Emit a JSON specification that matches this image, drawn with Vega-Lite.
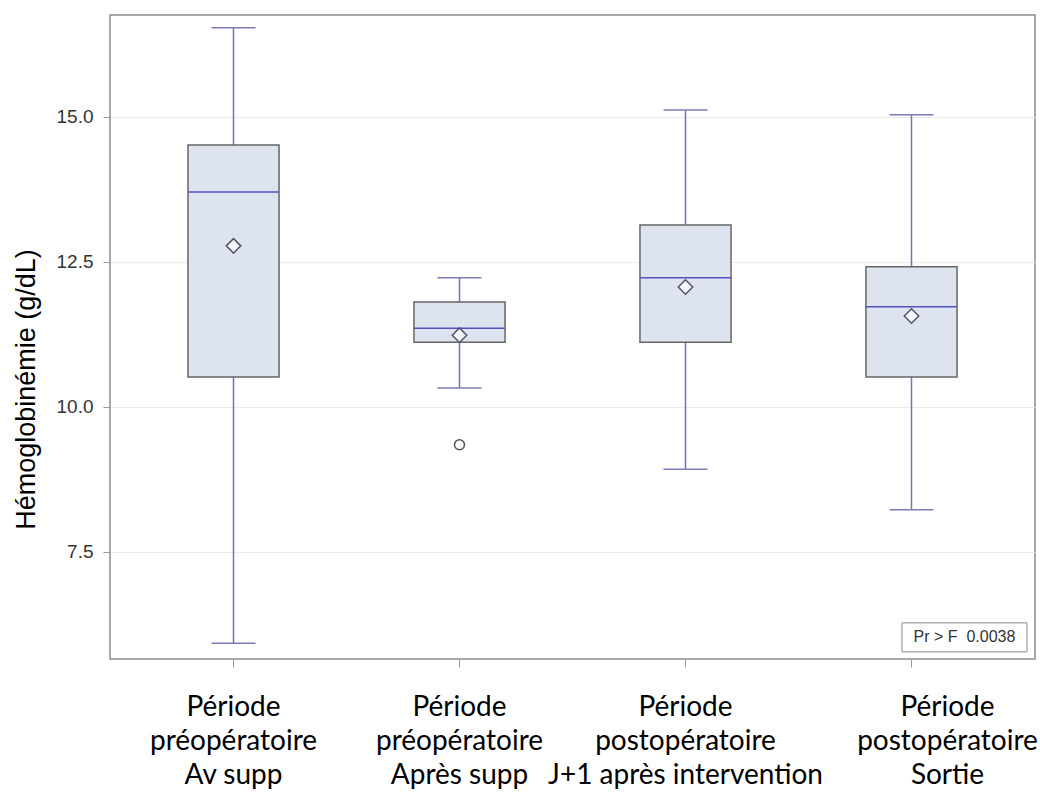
{
  "$schema": "https://vega.github.io/schema/vega-lite/v6.json",
  "autosize": {"type": "none"},
  "padding": {"left": 110, "top": 15, "right": 5, "bottom": 135},
  "width": 925,
  "height": 644,
  "background": "white",
  "datasets": {
    "stats": [
      {"cat": "Période|préopératoire|Av supp", "lower": 5.92, "q1": 10.51, "median": 13.70, "q3": 14.51, "upper": 16.53, "mean": 12.77},
      {"cat": "Période|préopératoire|Après supp", "lower": 10.32, "q1": 11.11, "median": 11.35, "q3": 11.80, "upper": 12.22, "mean": 11.23},
      {"cat": "Période|postopératoire|J+1 après intervention", "lower": 8.92, "q1": 11.11, "median": 12.22, "q3": 13.13, "upper": 15.11, "mean": 12.06},
      {"cat": "Période|postopératoire|Sortie", "lower": 8.22, "q1": 10.51, "median": 11.72, "q3": 12.41, "upper": 15.03, "mean": 11.56}
    ],
    "outliers": [
      {"cat": "Période|préopératoire|Après supp", "value": 9.34}
    ],
    "note": [
      {"cat": "Période|postopératoire|Sortie", "value": 6.02, "label": "Pr > F\u00a0\u00a00.0038"}
    ]
  },
  "encoding": {
    "x": {
      "field": "cat",
      "type": "nominal",
      "sort": null,
      "scale": {
        "type": "band",
        "paddingInner": 0,
        "paddingOuter": 0.0465,
        "domain": [
          "Période|préopératoire|Av supp",
          "Période|préopératoire|Après supp",
          "Période|postopératoire|J+1 après intervention",
          "Période|postopératoire|Sortie"
        ]
      },
      "axis": {
        "title": null,
        "domain": false,
        "grid": false,
        "labelAngle": 0,
        "labelExpr": "split(datum.label, '|')",
        "labelFont": "Lato",
        "labelFontSize": 28,
        "labelColor": "#000000",
        "labelLineHeight": 34,
        "labelPadding": 26,
        "labelBaseline": "top",
        "labelOffset": {"condition": {"test": "datum.value === 'Période|postopératoire|Sortie'", "value": 36}, "value": 0},
        "labelOverlap": false,
        "labelLimit": 0,
        "tickSize": 8,
        "tickColor": "#9a9a9a",
        "tickWidth": 1
      }
    }
  },
  "layer": [
    {
      "data": {"name": "stats"},
      "mark": {"type": "rule", "color": "#7272c4", "strokeWidth": 1.5},
      "encoding": {
        "y": {
          "field": "q3",
          "type": "quantitative",
          "scale": {"domain": [5.647, 16.75], "nice": false, "zero": false},
          "axis": {"title": "Hémoglobinémie (g/dL)", "values": [7.5, 10, 12.5, 15], "format": ".1f"}
        },
        "y2": {"field": "upper"}
      }
    },
    {
      "data": {"name": "stats"},
      "mark": {"type": "rule", "color": "#7272c4", "strokeWidth": 1.5},
      "encoding": {
        "y": {"field": "lower", "type": "quantitative", "axis": {"title": "Hémoglobinémie (g/dL)", "values": [7.5, 10, 12.5, 15], "format": ".1f"}},
        "y2": {"field": "q1"}
      }
    },
    {
      "data": {"name": "stats"},
      "mark": {"type": "tick", "color": "#7b7bb8", "size": 44, "thickness": 1.5, "opacity": 1},
      "encoding": {
        "y": {"field": "upper", "type": "quantitative", "axis": {"title": "Hémoglobinémie (g/dL)", "values": [7.5, 10, 12.5, 15], "format": ".1f"}}
      }
    },
    {
      "data": {"name": "stats"},
      "mark": {"type": "tick", "color": "#7b7bb8", "size": 44, "thickness": 1.5, "opacity": 1},
      "encoding": {
        "y": {"field": "lower", "type": "quantitative", "axis": {"title": "Hémoglobinémie (g/dL)", "values": [7.5, 10, 12.5, 15], "format": ".1f"}}
      }
    },
    {
      "data": {"name": "stats"},
      "mark": {"type": "bar", "width": {"band": 0.403}, "fill": "#dde4f0", "stroke": "#666666", "strokeWidth": 1.5, "opacity": 1},
      "encoding": {
        "y": {"field": "q1", "type": "quantitative", "axis": {"title": "Hémoglobinémie (g/dL)", "values": [7.5, 10, 12.5, 15], "format": ".1f"}},
        "y2": {"field": "q3"}
      }
    },
    {
      "data": {"name": "stats"},
      "mark": {"type": "tick", "color": "#5252c0", "size": 91, "thickness": 1.5, "opacity": 1},
      "encoding": {
        "y": {"field": "median", "type": "quantitative", "axis": {"title": "Hémoglobinémie (g/dL)", "values": [7.5, 10, 12.5, 15], "format": ".1f"}}
      }
    },
    {
      "data": {"name": "stats"},
      "mark": {"type": "point", "shape": "diamond", "size": 210, "filled": false, "fill": "#f4f7fc", "fillOpacity": 1, "stroke": "#555566", "strokeWidth": 1.5, "opacity": 1},
      "encoding": {
        "y": {"field": "mean", "type": "quantitative", "axis": {"title": "Hémoglobinémie (g/dL)", "values": [7.5, 10, 12.5, 15], "format": ".1f"}}
      }
    },
    {
      "data": {"name": "outliers"},
      "mark": {"type": "point", "shape": "circle", "size": 100, "filled": false, "stroke": "#555555", "strokeWidth": 1.5, "opacity": 1},
      "encoding": {
        "y": {"field": "value", "type": "quantitative", "axis": {"title": "Hémoglobinémie (g/dL)", "values": [7.5, 10, 12.5, 15], "format": ".1f"}}
      }
    },
    {
      "data": {"name": "note"},
      "mark": {"type": "point", "shape": "M-1,-0.232L1,-0.232L1,0.232L-1,0.232Z", "size": 15625, "filled": true, "fill": "white", "fillOpacity": 1, "stroke": "#8a8a8a", "strokeWidth": 1, "opacity": 1, "xOffset": 53},
      "encoding": {
        "y": {"field": "value", "type": "quantitative", "axis": {"title": "Hémoglobinémie (g/dL)", "values": [7.5, 10, 12.5, 15], "format": ".1f"}}
      }
    },
    {
      "data": {"name": "note"},
      "mark": {"type": "text", "font": "Liberation Sans", "fontSize": 16, "color": "#333333", "align": "center", "baseline": "middle", "dx": 53},
      "encoding": {
        "y": {"field": "value", "type": "quantitative", "axis": {"title": "Hémoglobinémie (g/dL)", "values": [7.5, 10, 12.5, 15], "format": ".1f"}},
        "text": {"field": "label"}
      }
    }
  ],
  "config": {
    "view": {"stroke": "#8c8c8c", "strokeWidth": 1.5},
    "axis": {"grid": false},
    "axisY": {
      "titleFont": "Liberation Sans",
      "titleFontSize": 27,
      "titleFontWeight": "normal",
      "titleColor": "#000000",
      "titleAngle": -90,
      "titleAlign": "center",
      "titleBaseline": "alphabetic",
      "titleX": -76,
      "titleY": 374,
      "domain": false,
      "grid": true,
      "gridColor": "#ebebeb",
      "gridWidth": 1,
      "labelFont": "Liberation Sans",
      "labelFontSize": 19,
      "labelColor": "#333333",
      "labelPadding": 10,
      "tickSize": 7,
      "tickColor": "#9a9a9a"
    }
  }
}
